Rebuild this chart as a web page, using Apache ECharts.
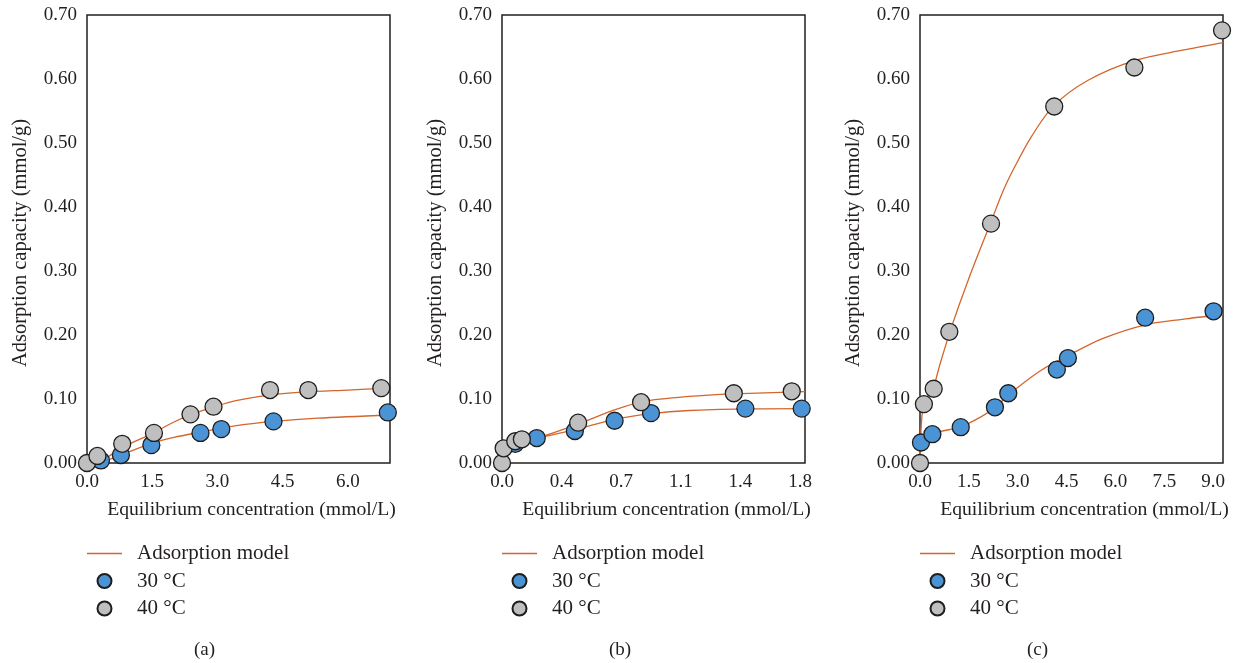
<!DOCTYPE html>
<html>
<head>
<meta charset="utf-8">
<script src="https://cdn.jsdelivr.net/npm/echarts@6/dist/echarts.min.js"></script>
<style>
html, body { margin: 0; padding: 0; background: #fff; }
#main { width: 1239px; height: 663px; }
</style>
</head>
<body>
<div id="main"></div>
<script>
// panel (a)
const aX30 = [0.32, 0.78, 1.48, 2.61, 3.09, 4.29, 6.92];
const aY30 = [0.004, 0.0125, 0.028, 0.047, 0.053, 0.065, 0.079];
const aX40 = [0.0, 0.24, 0.81, 1.54, 2.38, 2.91, 4.21, 5.09, 6.77];
const aY40 = [0.0, 0.011, 0.030, 0.047, 0.076, 0.088, 0.114, 0.114, 0.117];
const aFitX30 = [0.3, 0.8, 1.5, 2.0, 2.6, 3.4, 4.3, 5.3, 6.97];
const aFitY30 = [0.0, 0.013, 0.031, 0.040, 0.048, 0.058, 0.065, 0.070, 0.075];
const aFitX40 = [0.3, 0.8, 1.5, 2.0, 2.4, 2.9, 3.4, 4.2, 5.0, 6.0, 6.97];
const aFitY40 = [0.0, 0.024, 0.046, 0.064, 0.076, 0.087, 0.097, 0.106, 0.111, 0.114, 0.117];

// panel (b)
const bX30 = [0.08, 0.21, 0.44, 0.68, 0.90, 1.47, 1.81];
const bY30 = [0.030, 0.039, 0.050, 0.066, 0.078, 0.085, 0.085];
const bX40 = [0.0, 0.01, 0.08, 0.12, 0.46, 0.84, 1.40, 1.75];
const bY40 = [0.0, 0.023, 0.034, 0.037, 0.063, 0.095, 0.109, 0.112];
const bFitX30 = [0.05, 0.2, 0.44, 0.68, 0.9, 1.13, 1.47, 1.83];
const bFitY30 = [0.030, 0.038, 0.052, 0.068, 0.077, 0.082, 0.0845, 0.085];
const bFitX40 = [0.05, 0.2, 0.45, 0.68, 0.85, 1.13, 1.4, 1.83];
const bFitY40 = [0.030, 0.038, 0.060, 0.083, 0.096, 0.104, 0.108, 0.1115];

// panel (c)
const cX30 = [0.03, 0.38, 1.25, 2.30, 2.71, 4.20, 4.54, 6.91, 9.01];
const cY30 = [0.032, 0.045, 0.056, 0.087, 0.109, 0.146, 0.164, 0.227, 0.237];
const cX40 = [0.0, 0.12, 0.42, 0.90, 2.18, 4.12, 6.58, 9.27];
const cY40 = [0.0, 0.092, 0.116, 0.205, 0.374, 0.557, 0.618, 0.676];
const cFitX30 = [0.0, 0.02, 0.38, 0.64, 1.23, 1.87, 2.26, 2.9, 3.72, 4.55, 5.58, 6.91, 8.05, 9.3];
const cFitY30 = [0.0, 0.030, 0.046, 0.0495, 0.056, 0.072, 0.085, 0.114, 0.145, 0.168, 0.194, 0.216, 0.2245, 0.232];
const cFitX40 = [0.0, 0.04, 0.12, 0.42, 0.6, 0.95, 1.51, 2.18, 2.55, 2.9, 3.42, 4.1, 5.16, 6.6, 8.05, 9.3];
const cFitY40 = [0.0, 0.060, 0.092, 0.120, 0.152, 0.210, 0.290, 0.377, 0.425, 0.462, 0.510, 0.558, 0.598, 0.629, 0.645, 0.657];

const panelLabels = ['(a)', '(b)', '(c)'];
const xMax = [6.97, 1.83, 9.3];
const xStep = [1.5, 0.36, 1.5];

const FONT = 'Liberation Serif';
const TXT = '#231f20';
const BLUE = '#4a93d4';
const GRAY = '#bfbfbf';
const FIT = '#d4652c';

const panels = [
    {left: 87, fit30: [aFitX30, aFitY30], fit40: [aFitX40, aFitY40], p30: [aX30, aY30], p40: [aX40, aY40]},
    {left: 502, fit30: [bFitX30, bFitY30], fit40: [bFitX40, bFitY40], p30: [bX30, bY30], p40: [bX40, bY40]},
    {left: 920, fit30: [cFitX30, cFitY30], fit40: [cFitX40, cFitY40], p30: [cX30, cY30], p40: [cX40, cY40]}
];

function zip(xs, ys) {
    return xs.map((x, i) => [x, ys[i]]);
}

let grid = [], xAxis = [], yAxis = [], series = [], legend = [], title = [];
panels.forEach((p, i) => {
    grid.push({
        left: p.left, top: 15, width: 303, height: 448,
        show: true, borderColor: TXT, borderWidth: 1.5, backgroundColor: 'transparent'
    });
    xAxis.push({
        gridIndex: i, type: 'value', min: 0, max: xMax[i], interval: xStep[i],
        name: 'Equilibrium concentration (mmol/L)', nameLocation: 'middle', nameGap: 37,
        nameTextStyle: {fontFamily: FONT, fontSize: 19.7, color: TXT, padding: [0, 0, 0, 26]},
        axisLine: {show: false}, axisTick: {show: false}, splitLine: {show: false},
        axisLabel: {
            fontFamily: FONT, fontSize: 19, color: TXT, margin: 10,
            showMaxLabel: false,
            formatter: v => v.toFixed(1)
        }
    });
    yAxis.push({
        gridIndex: i, type: 'value', min: 0, max: 0.7, interval: 0.1,
        name: 'Adsorption capacity (mmol/g)', nameLocation: 'middle', nameGap: 56,
        nameTextStyle: {fontFamily: FONT, fontSize: 20.5, color: TXT, padding: [0, 8, 0, 0]},
        axisLine: {show: false}, axisTick: {show: false}, splitLine: {show: false},
        axisLabel: {
            fontFamily: FONT, fontSize: 19, color: TXT, margin: 10,
            formatter: v => v.toFixed(2)
        }
    });
    [p.fit30, p.fit40].forEach(f => {
        series.push({
            name: 'Adsorption model', type: 'line', xAxisIndex: i, yAxisIndex: i,
            data: zip(f[0], f[1]), symbol: 'none', smooth: 0.3,
            lineStyle: {color: FIT, width: 1.3}, itemStyle: {color: FIT}, z: 2
        });
    });
    series.push({
        name: '30 °C', type: 'scatter', xAxisIndex: i, yAxisIndex: i,
        data: zip(p.p30[0], p.p30[1]), symbolSize: 17, clip: false,
        itemStyle: {color: BLUE, borderColor: '#1e1e1e', borderWidth: 1.3, opacity: 1}, z: 3
    });
    series.push({
        name: '40 °C', type: 'scatter', xAxisIndex: i, yAxisIndex: i,
        data: zip(p.p40[0], p.p40[1]), symbolSize: 17, clip: false,
        itemStyle: {color: GRAY, borderColor: '#1e1e1e', borderWidth: 1.3, opacity: 1}, z: 4
    });
    legend.push({
        orient: 'vertical', left: p.left, top: 543, padding: 0,
        itemWidth: 35, itemHeight: 14, itemGap: 6.5,
        selectedMode: false,
        data: [
            {name: 'Adsorption model', icon: 'path://M0,0 H35 V1.3 H0 Z'},
            '30 °C', '40 °C'
        ],
        textStyle: {fontFamily: FONT, fontSize: 21, color: TXT, padding: [0, 0, 0, 10]}
    });
    title.push({
        text: panelLabels[i], left: p.left + 102, top: 636,
        textStyle: {fontFamily: FONT, fontSize: 19, fontWeight: 'normal', color: TXT}
    });
});

const chart = echarts.init(document.getElementById('main'));
chart.setOption({
    animation: false,
    backgroundColor: '#fff',
    title: title,
    legend: legend,
    grid: grid,
    xAxis: xAxis,
    yAxis: yAxis,
    series: series
});
</script>
</body>
</html>
